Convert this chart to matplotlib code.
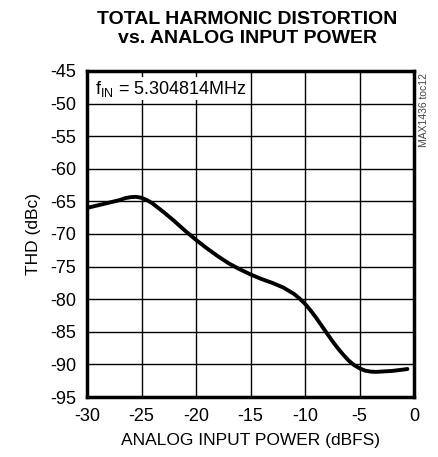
import matplotlib
matplotlib.use("Agg")
import matplotlib.pyplot as plt

# données
power_dbfs = [-30, -29, -28, -27, -26.5, -26, -25.5, -25, -24.5, -24, -23, -22, -21, -20,
              -19, -18, -17, -16, -15, -14, -13, -12, -11, -10.5, -10, -9.5, -9, -8.5,
              -8, -7.5, -7, -6.5, -6, -5.5, -5, -4.5, -4, -3.5, -3, -2, -1, -0.6]
thd_dbc = [-66.0, -65.6, -65.2, -64.8, -64.5, -64.35, -64.3, -64.45, -64.8, -65.3, -66.6,
           -68.0, -69.5, -70.9, -72.2, -73.4, -74.5, -75.4, -76.2, -76.9, -77.5, -78.2,
           -79.2, -79.9, -80.7, -81.7, -82.8, -84.0, -85.2, -86.4, -87.5, -88.5, -89.4,
           -90.1, -90.6, -90.95, -91.1, -91.15, -91.1, -91.0, -90.8, -90.7]

xticks = [-30, -25, -20, -15, -10, -5, 0]
yticks = [-45, -50, -55, -60, -65, -70, -75, -80, -85, -90, -95]

plt.rcParams['font.family'] = ['Liberation Sans', 'DejaVu Sans']
plt.rcParams['axes.unicode_minus'] = False

fig = plt.figure(figsize=(4.38, 4.57), dpi=100)
ax = fig.add_axes([87 / 438, 1 - 397 / 457, (414 - 87) / 438, (397 - 71) / 457])

ax.plot(power_dbfs, thd_dbc, color="black", lw=2.8, solid_capstyle="round",
        solid_joinstyle="round")

ax.set_xlim(-30, 0)
ax.set_ylim(-95, -45)
ax.set_xticks(xticks)
ax.set_yticks(yticks)
ax.grid(True, color="black", lw=1.0)
ax.tick_params(length=0, labelsize=13, pad=8)
for s in ax.spines.values():
    s.set_linewidth(2.5)

ax.set_xlabel("ANALOG INPUT POWER (dBFS)", fontsize=12.5, labelpad=6)
ax.set_ylabel("THD (dBc)", fontsize=12.5, labelpad=6)

fig.text(0.565, 0.975, "TOTAL HARMONIC DISTORTION\nvs. ANALOG INPUT POWER",
         ha="center", va="top", fontsize=14, fontweight="bold", linespacing=1.1)

ax.text(-29.3, -46.2, r"f$_{\mathregular{IN}}$ = 5.304814MHz", ha="left", va="top",
        fontsize=13, bbox=dict(facecolor="white", edgecolor="none", pad=1))

fig.text(424 / 438, 1 - 110 / 457, "MAX1436 toc12", rotation=90, ha="center",
         va="center", fontsize=7.5, color="#444444")

fig.savefig("out.png", dpi=100)
